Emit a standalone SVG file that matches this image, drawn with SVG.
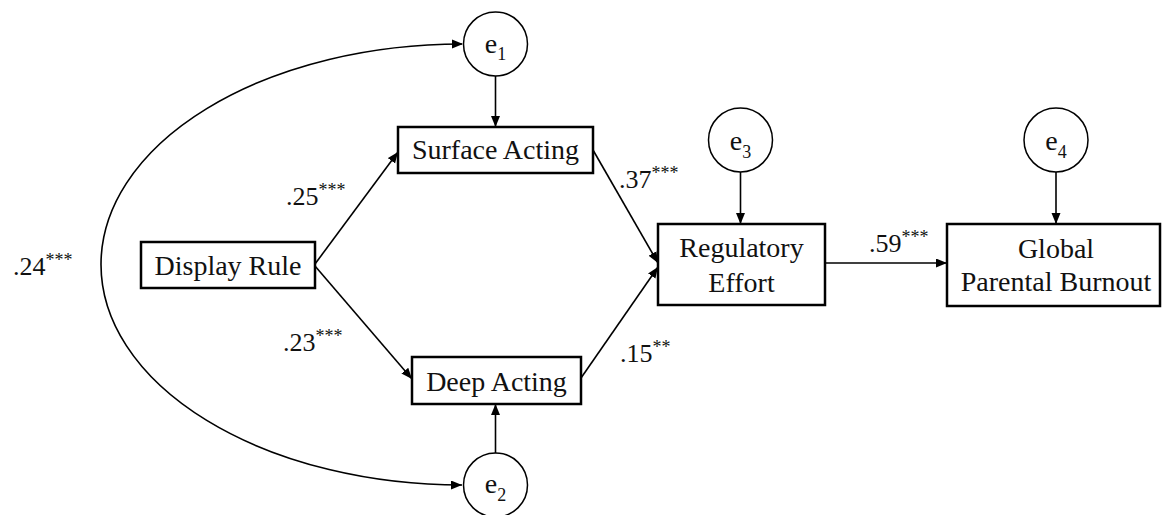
<svg xmlns="http://www.w3.org/2000/svg" width="1164" height="515" viewBox="0 0 1164 515">
<style>
.box{fill:#fff;stroke:#000;stroke-width:2.5}
.circ{fill:#fff;stroke:#000;stroke-width:1.5}
text{font-family:'Liberation Serif','DejaVu Serif',serif;fill:#111}
.t{font-size:28px}
.sub{font-size:18px}
.lab{font-size:26px}
.sup{font-size:18px}
.edge{fill:none;stroke:#000;stroke-width:1.6}
</style>
<defs>
<marker id="ah" markerUnits="userSpaceOnUse" markerWidth="12" markerHeight="10" refX="11" refY="4.5" orient="auto">
<path d="M0,0 L11,4.5 L0,9 z" fill="#000"/>
</marker>
</defs>
<g id="connectors">
<path class="edge" d="M495.5,76 L495.5,127" marker-end="url(#ah)"/>
<path class="edge" d="M495.5,453 L495.5,404" marker-end="url(#ah)"/>
<path class="edge" d="M740.5,172 L740.5,224" marker-end="url(#ah)"/>
<path class="edge" d="M1056,172 L1056,224" marker-end="url(#ah)"/>
<path class="edge" d="M315,264 L398,152" marker-end="url(#ah)"/>
<path class="edge" d="M315,266 L412,379" marker-end="url(#ah)"/>
<path class="edge" d="M593,150 L658,263" marker-end="url(#ah)"/>
<path class="edge" d="M581,378 L658,267" marker-end="url(#ah)"/>
<path class="edge" d="M825,263 L947,263" marker-end="url(#ah)"/>
<path class="edge" d="M462,44 A361,220.5 0 0 0 462,485" marker-end="url(#ah)"/>
<path d="M452,39.5 L463,44 L452,48.5 z" fill="#000"/>
</g>
<g id="e1"><circle class="circ" cx="495.5" cy="44" r="32"/><text class="t" x="495.5" y="53" text-anchor="middle" font-family="Liberation Serif, serif">e<tspan class="sub" dy="7">1</tspan></text></g>
<g id="e2"><circle class="circ" cx="495.5" cy="485" r="32"/><text class="t" x="495.5" y="493" text-anchor="middle">e<tspan class="sub" dy="8">2</tspan></text></g>
<g id="e3"><circle class="circ" cx="740.5" cy="140" r="32"/><text class="t" x="740.5" y="150" text-anchor="middle">e<tspan class="sub" dy="8">3</tspan></text></g>
<g id="e4"><circle class="circ" cx="1056" cy="140" r="32"/><text class="t" x="1056" y="150" text-anchor="middle">e<tspan class="sub" dy="8">4</tspan></text></g>
<g id="display"><rect class="box" x="141" y="242" width="174" height="46"/><text class="t" x="228" y="275" text-anchor="middle">Display Rule</text></g>
<g id="surface"><rect class="box" x="398" y="127" width="195" height="46"/><text class="t" x="495.5" y="159" text-anchor="middle">Surface Acting</text></g>
<g id="deep"><rect class="box" x="412" y="357" width="169" height="47"/><text class="t" x="496.5" y="391" text-anchor="middle">Deep Acting</text></g>
<g id="regulatory"><rect class="box" x="658" y="224" width="167" height="81"/><text class="t" x="741.5" y="257" text-anchor="middle">Regulatory</text><text class="t" x="741.5" y="292" text-anchor="middle">Effort</text></g>
<g id="burnout"><rect class="box" x="947" y="224" width="213" height="82"/><text class="t" x="1056" y="258" text-anchor="middle">Global</text><text class="t" x="1056" y="291" text-anchor="middle">Parental Burnout</text></g>
<g id="labels">
<text class="lab" x="286" y="205">.25<tspan class="sup" dy="-9">***</tspan></text>
<text class="lab" x="283" y="351">.23<tspan class="sup" dy="-9">***</tspan></text>
<text class="lab" x="13" y="275">.24<tspan class="sup" dy="-9">***</tspan></text>
<text class="lab" x="619" y="188">.37<tspan class="sup" dy="-9">***</tspan></text>
<text class="lab" x="620" y="362">.15<tspan class="sup" dy="-9">**</tspan></text>
<text class="lab" x="869" y="252">.59<tspan class="sup" dy="-9">***</tspan></text>
</g>
</svg>
